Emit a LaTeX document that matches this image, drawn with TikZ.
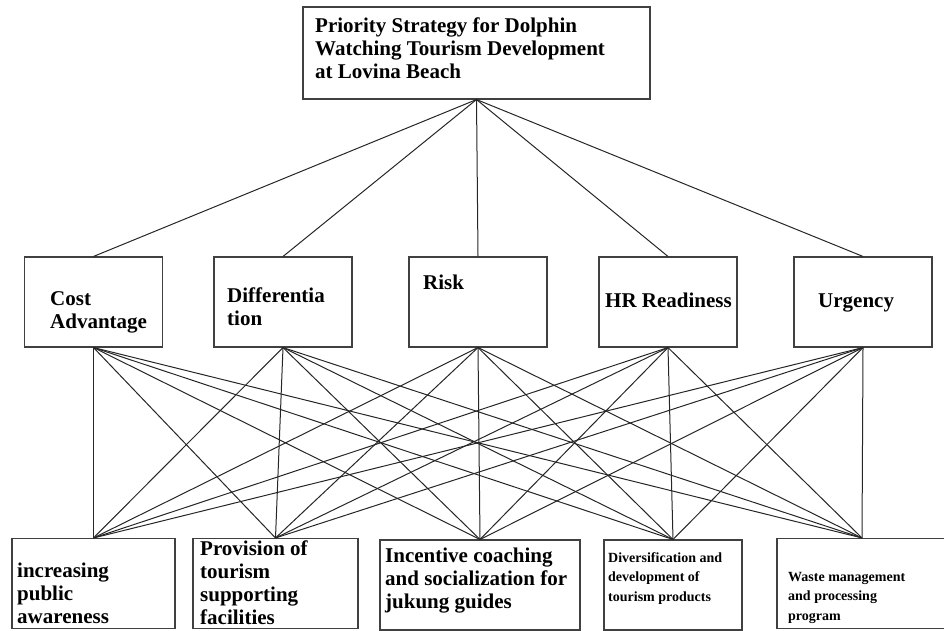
\documentclass[tikz,border=0pt]{standalone}
\usepackage{fontspec}
\setmainfont{Liberation Serif}
\usetikzlibrary{positioning}

\tikzset{
  box/.style={rectangle,draw=black!75,line width=1.1pt,inner sep=0pt},
  lbl/.style={anchor=base west,inner sep=0pt,align=left,font=\bfseries\fontsize{21}{23}\selectfont},
  lbls/.style={anchor=base west,inner sep=0pt,align=left,font=\bfseries\fontsize{14}{19.5}\selectfont},
  link/.style={draw=black!85,line width=1pt}
}

\begin{document}
\begin{tikzpicture}[x=1pt,y=-1pt]
  \useasboundingbox (0,0) rectangle (944,630);
  % goal
  \node[box,minimum width=347pt,minimum height=92pt] (goal) at (476.5,53) {};
  % criteria
  \foreach \x/\alph in {93.5/c1,283/c2,478/c3,668/c4,863/c5}{
    \node[box,minimum width=138pt,minimum height=90pt] (\alph) at (\x,302) {};
  }
  % alternatives
  \foreach \x/\y/\w/\alph in {93.5/583.5/163/a1,275.5/583.5/165/a2,480/585/200/a3,673/585/138/a4,862/583.5/170/a5}{
    \node[box,minimum width=\w pt,minimum height=90pt] (\alph) at (\x,\y) {};
  }
  % links
  \foreach \alpha in {c1,c2,c3,c4,c5}%
  {%
  \draw[link] (goal.south) -- (\alpha.north);%
  \foreach \alphb in {a1,a2,a3,a4,a5}%
  {%
   \draw[link] (\alpha.south) -- (\alphb.north);%
  }}
  % texts (anchored at the baseline of the last line)
  \node[lbl] (tgoal) at (315,78) {Priority Strategy for Dolphin\\Watching Tourism Development\\at Lovina Beach};
  \node[lbl] (tc1) at (50,328) {Cost\\Advantage};
  \node[lbl] (tc2) at (227,325) {Differentia\\tion};
  \node[lbl] (tc3) at (423,289) {Risk};
  \node[lbl] (tc4) at (605,307) {HR Readiness};
  \node[lbl] (tc5) at (818,307) {Urgency};
  \node[lbl] (ta1) at (17,623) {increasing\\public\\awareness};
  \node[lbl] (ta2) at (200,624) {Provision of\\tourism\\supporting\\facilities};
  \node[lbl] (ta3) at (385,608) {Incentive coaching\\and socialization for\\jukung guides};
  \node[lbls] (ta4) at (608,601) {Diversification and\\development of\\tourism products};
  \node[lbls] (ta5) at (788,620) {Waste management\\and processing\\program};
\end{tikzpicture}
\end{document}
